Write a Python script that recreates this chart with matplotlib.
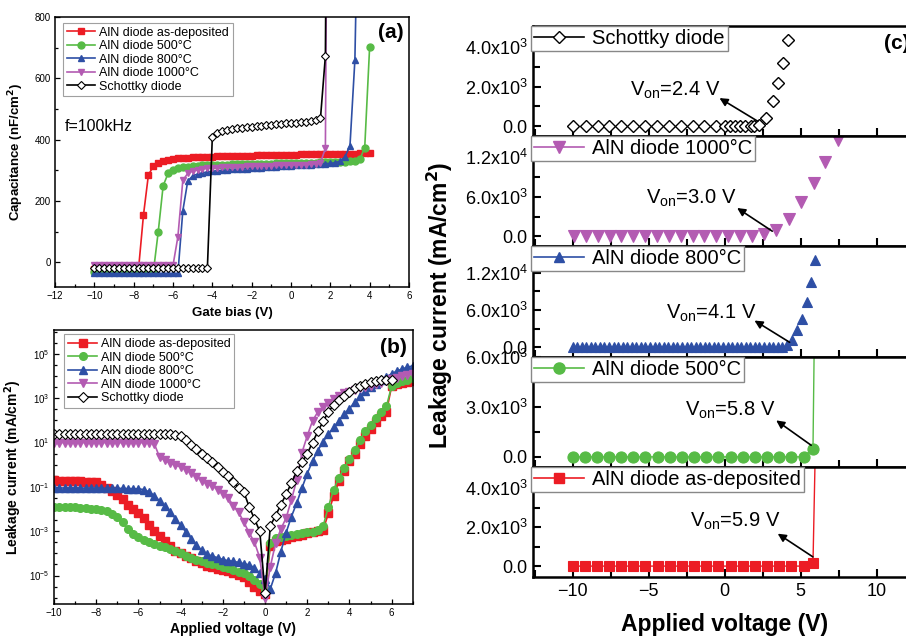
import numpy as np
import matplotlib
matplotlib.use('Agg')
import matplotlib.pyplot as plt
from matplotlib.ticker import MultipleLocator, FixedLocator, FuncFormatter, NullFormatter
from matplotlib.lines import Line2D

plt.rcParams['font.family'] = ['Liberation Sans', 'DejaVu Sans']
plt.rcParams['mathtext.default'] = 'regular'

RED = '#ec1c24'
GREEN = '#57bb46'
BLUE = '#2e4fa5'
PURPLE = '#b35bb2'

labels = ['AlN diode as-deposited', 'AlN diode 500°C', 'AlN diode 800°C',
          'AlN diode 1000°C', 'Schottky diode']

# ---- (a) C-V, gate bias sweep in 0.25 V steps from -10 V
bias_a = np.arange(-10, 4.01, 0.25)
cap_asdep = [-20, -20, -20, -20, -20, -20, -20, -20, -20, -20,
             155, 285, 314, 325, 331, 335, 338, 340, 341, 342, 343, 344, 344, 345, 345,
             346, 346, 347, 347, 347, 348, 348, 348, 349, 349, 349, 350, 350, 350, 351, 351,
             351, 352, 352, 352, 353, 353, 353, 354, 354, 354, 355, 355, 355, 356, 356, 357]
cap_500 = [-32, -32, -32, -32, -32, -32, -32, -32, -32, -32, -32, -32, -32,
           100, 250, 290, 302, 307, 310, 312, 314, 315, 316, 317, 318,
           318, 319, 319, 320, 320, 320, 321, 321, 321, 322, 322, 322, 323, 323, 323,
           324, 324, 324, 325, 325, 325, 326, 326, 327, 327, 328, 328, 329, 330,
           336, 374, 703]
cap_800 = [-36, -36, -36, -36, -36, -36, -36, -36, -36, -36, -36, -36, -36, -36, -36, -36, -36, -36,
           168, 265, 282, 288, 292, 295, 297, 299, 300, 302, 303, 304, 305, 306, 307, 308,
           309, 310, 311, 312, 313, 314, 315, 316, 317, 318, 319, 320, 321, 322, 323, 325,
           330, 345, 380, 660, 1500]
cap_1000 = [-10, -10, -10, -10, -10, -10, -10, -10, -10, -10, -10, -10, -10, -10, -10, -10, -10,
            84, 268, 290, 298, 302, 305, 307, 308, 309, 310, 311, 311, 312, 312, 313, 313,
            314, 314, 315, 315, 316, 316, 317, 317, 318, 318, 319, 320, 322, 325, 372, 3000]
cap_schottky = [-17, -17, -17, -17, -17, -17, -17, -17, -17, -17, -17, -17,
                -17, -17, -17, -17, -17, -17, -17, -17, -17, -17, -17, -17,
                408, 422, 428, 432, 435, 437, 439, 441, 443, 444, 446, 447, 449,
                450, 452, 453, 455, 456, 457, 459, 461, 463, 470, 673, 3000]

# ---- (b) I-V on log scale, log10(mA/cm2), 0.25 V steps from -10 V
volt_b = np.arange(-10, 7.01, 0.25)
log_asdep = [-0.71, -0.72, -0.72, -0.73, -0.74, -0.75, -0.76, -0.77, -0.80, -0.90,
             -1.05, -1.20, -1.35, -1.55, -1.80, -2.00, -2.18, -2.42, -2.72, -2.98,
             -3.22, -3.45, -3.66, -3.88, -4.00, -4.10, -4.22, -4.33, -4.44, -4.55,
             -4.63, -4.69, -4.74, -4.80, -4.88, -4.98, -5.08, -5.30, -5.52, -5.68,
             -5.85, -3.65, -3.46, -3.40, -3.34, -3.28, -3.22, -3.16, -3.10, -3.04,
             -3.00, -2.95, -2.20, -1.40, -0.75, -0.30, 0.15, 0.50, 0.92, 1.30,
             1.62, 1.92, 2.18, 2.38, 3.55, 3.62, 3.68, 3.72, 3.78]
log_500 = [-1.90, -1.90, -1.91, -1.92, -1.93, -1.95, -1.96, -1.98, -2.00, -2.05,
           -2.11, -2.22, -2.38, -2.60, -2.92, -3.13, -3.28, -3.38, -3.47, -3.57,
           -3.65, -3.73, -3.82, -3.90, -4.00, -4.12, -4.20, -4.29, -4.36, -4.42,
           -4.48, -4.54, -4.60, -4.66, -4.75, -4.82, -4.89, -5.00, -5.20, -5.40,
           -5.65, -3.55, -3.31, -3.27, -3.22, -3.17, -3.12, -3.08, -3.05, -3.02,
           -2.95, -2.78, -1.90, -1.13, -0.58, -0.15, 0.25, 0.66, 1.12, 1.50,
           1.80, 2.10, 2.38, 2.63, 3.55, 3.67, 3.76, 3.84, 3.90]
log_800 = [-1.05, -1.05, -1.05, -1.05, -1.05, -1.05, -1.06, -1.06, -1.06, -1.06,
           -1.07, -1.07, -1.07, -1.07, -1.08, -1.08, -1.09, -1.12, -1.22, -1.40,
           -1.63, -1.88, -2.12, -2.43, -2.74, -3.03, -3.33, -3.62, -3.86, -4.03,
           -4.13, -4.19, -4.28, -4.33, -4.36, -4.41, -4.47, -4.52, -4.65, -4.90,
           -5.15, -5.60, -4.89, -3.92, -3.06, -2.34, -1.73, -1.05, -0.40, 0.17,
           0.64, 1.04, 1.38, 1.68, 1.98, 2.28, 2.53, 2.82, 3.08, 3.32,
           3.50, 3.65, 3.82, 3.97, 4.10, 4.23, 4.32, 4.40, 4.46]
log_1000 = [1.00, 1.00, 1.00, 1.00, 1.00, 1.00, 1.00, 1.00, 1.00, 1.00,
            1.00, 1.00, 1.00, 1.00, 1.00, 1.00, 1.00, 1.00, 1.00, 0.95,
            0.35, 0.20, 0.08, -0.02, -0.10, -0.22, -0.38, -0.55, -0.72, -0.85,
            -0.95, -1.12, -1.30, -1.50, -1.85, -2.15, -2.60, -3.08, -3.50, -4.20,
            -6.00, -4.60, -3.54, -2.90, -2.40, -1.58, -0.70, 0.55, 1.30, 1.98,
            2.38, 2.60, 2.80, 2.95, 3.08, 3.22, 3.30, 3.38, 3.45, 3.51,
            3.56, 3.62, 3.68, 3.76, 3.86, 3.93, 4.00, 4.06, 4.10]
log_schottky = [1.38, 1.38, 1.38, 1.38, 1.38, 1.38, 1.38, 1.38, 1.38, 1.38,
                1.38, 1.38, 1.38, 1.38, 1.38, 1.38, 1.38, 1.38, 1.38, 1.38,
                1.38, 1.38, 1.37, 1.35, 1.28, 1.10, 0.88, 0.70, 0.50, 0.30,
                0.10, -0.09, -0.32, -0.52, -0.77, -1.04, -1.25, -1.90, -2.45, -3.00,
                -5.80, -2.75, -2.30, -1.80, -1.33, -0.82, -0.30, 0.10, 0.50, 1.00,
                1.50, 1.95, 2.38, 2.70, 2.94, 3.12, 3.30, 3.45, 3.57, 3.66,
                3.75, 3.79, 3.82, 3.83, 3.81]

# ---- (c) linear I-V, one panel per device (mA/cm2)
volt_sch_c = [-9.98, -9.1, -8.33, -7.57, -6.8, -6.03, -5.2, -4.45, -3.66, -2.85, -2.08,
              -1.32, -0.55, 0.0, 0.37, 0.72, 1.05, 1.38, 1.71, 1.97, 2.3, 2.74, 3.18, 3.51,
              3.84, 4.17]
cur_sch_c = [0.0] * 20 + [80, 420, 1250, 2170, 3170, 4330]
volt_1000_c = [-9.9, -9.12, -8.34, -7.56, -6.78, -6.0, -5.22, -4.44, -3.66, -2.88, -2.1,
               -1.32, -0.54, 0.24, 1.02, 1.8, 2.63, 3.4, 4.23, 5.04, 5.88, 6.64, 7.46]
cur_1000_c = [0.0] * 16 + [300, 1000, 2700, 5200, 8100, 11200, 14600]
volt_800_c = list(np.round(np.arange(-10, 4.15, 0.3), 2)) + [4.45, 4.8, 5.1, 5.4, 5.7, 5.95]
cur_800_c = [0.0] * 47 + [300, 1200, 2700, 4550, 7250, 10450, 14000]
volt_500_c = list(np.round(np.arange(-10, 5.25, 0.8), 2)) + [5.82, 5.93]
cur_500_c = [0.0] * 20 + [500, 9000]
volt_asdep_c = list(np.round(np.arange(-10, 5.25, 0.8), 2)) + [5.82, 6.05]
cur_asdep_c = [0.0] * 20 + [150, 9000]
von_text = ['2.4', '3.0', '4.1', '5.8', '5.9']

fig = plt.figure(figsize=(9.06, 6.39), dpi=100)


def style_small(ax):
    for s in ax.spines.values():
        s.set_linewidth(1.1)
    ax.tick_params(which='both', direction='in', labelsize=7, width=0.9, pad=3)
    ax.tick_params(which='major', length=3.5)
    ax.tick_params(which='minor', length=2)


# ---------------- panel (a)
axa = fig.add_axes([0.0607, 0.5509, 0.3907, 0.4225])
for vals, c, m, lab in zip([cap_asdep, cap_500, cap_800, cap_1000],
                           [RED, GREEN, BLUE, PURPLE], ['s', 'o', '^', 'v'], labels[:4]):
    axa.plot(bias_a[:len(vals)], vals, color=c, marker=m, ms=5, mec=c, lw=1.2, label=lab)
axa.plot(bias_a[:len(cap_schottky)], cap_schottky, color='black', marker='D', ms=4.5,
         mfc='white', mec='black', mew=0.8, lw=1.2, label=labels[4])
axa.set_xlim(-12, 6)
axa.set_ylim(-80, 800)
axa.xaxis.set_major_locator(MultipleLocator(2))
axa.xaxis.set_minor_locator(MultipleLocator(1))
axa.yaxis.set_major_locator(MultipleLocator(200))
axa.yaxis.set_minor_locator(MultipleLocator(100))
style_small(axa)
axa.set_xlabel('Gate bias (V)', fontsize=9.5, fontweight='bold', labelpad=4)
axa.set_ylabel(r'Capacitance (nF/cm$^\mathbf{2}$)', fontsize=9.5, fontweight='bold', labelpad=6)
axa.text(-11.5, 442, 'f=100kHz', fontsize=11.5, va='center')
axa.text(4.4, 748, '(a)', fontsize=15, fontweight='bold', va='center')
leg = axa.legend(loc='upper left', bbox_to_anchor=(0.022, 0.978), fontsize=9, fancybox=False,
                 edgecolor='#888888', handlelength=2.3, borderpad=0.3, labelspacing=0.12,
                 handletextpad=0.3, borderaxespad=0)
leg.get_frame().set_linewidth(0.8)

# ---------------- panel (b)
axb = fig.add_axes([0.0596, 0.0548, 0.396, 0.4288])
for vals, c, m, lab in zip([log_asdep, log_500, log_800, log_1000],
                           [RED, GREEN, BLUE, PURPLE], ['s', 'o', '^', 'v'], labels[:4]):
    axb.plot(volt_b[:len(vals)], 10 ** np.array(vals), color=c, marker=m, ms=5.5, mec=c,
             lw=1.2, label=lab)
axb.plot(volt_b[:len(log_schottky)], 10 ** np.array(log_schottky), color='black', marker='D',
         ms=5, mfc='white', mec='black', mew=0.8, lw=1.2, label=labels[4])
axb.set_yscale('log')
axb.set_xlim(-10, 7)
axb.set_ylim(5.2e-7, 1.2e6)
axb.xaxis.set_major_locator(MultipleLocator(2))
axb.xaxis.set_minor_locator(MultipleLocator(1))
axb.yaxis.set_major_locator(FixedLocator([10.0 ** k for k in range(-5, 6, 2)]))
axb.yaxis.set_minor_locator(FixedLocator([10.0 ** (k / 2) for k in range(-12, 13)
                                          if k % 4 != 2]))
axb.yaxis.set_major_formatter(FuncFormatter(lambda v, p: '$10^{%d}$' % round(np.log10(v))))
axb.yaxis.set_minor_formatter(NullFormatter())
style_small(axb)
axb.set_xlabel('Applied voltage (V)', fontsize=10, fontweight='bold', labelpad=3)
axb.set_ylabel(r'Leakage current (mA/cm$^\mathbf{2}$)', fontsize=10, fontweight='bold', labelpad=4)
axb.text(5.45, 10 ** 5.28, '(b)', fontsize=15, fontweight='bold', va='center')
leg = axb.legend(loc='upper left', bbox_to_anchor=(0.029, 0.984), fontsize=9, fancybox=False,
                 edgecolor='#888888', handlelength=2.3, borderpad=0.3, labelspacing=0.12,
                 handletextpad=0.3, borderaxespad=0)
leg.get_frame().set_linewidth(0.8)

# ---------------- panel (c): five stacked linear panels
c_top = 1 - 26 / 639
c_bot = 1 - 577 / 639
h = (c_top - c_bot) / 5
c_left = 533 / 906
c_width = 25.2 * 15.2 / 906

series_c = [
    (volt_sch_c, cur_sch_c, 'black', 'D', 6.5, 'white', 'none', labels[4]),
    (volt_1000_c, cur_1000_c, PURPLE, 'v', 8.5, PURPLE, 'none', labels[3]),
    (volt_800_c, cur_800_c, BLUE, '^', 7.5, BLUE, 'none', labels[2]),
    (volt_500_c, cur_500_c, GREEN, 'o', 8, GREEN, '-', labels[1]),
    (volt_asdep_c, cur_asdep_c, RED, 's', 7, RED, '-', labels[0]),
]
ylims = [(-500, 5050), (-1500, 15150), (-1500, 16200), (-600, 6050), (-560, 5100)]
majors = [2000, 6000, 6000, 3000, 2000]
text_pos = [(-6.25, 1535), (-5.15, 5000), (-3.84, 4560), (-2.63, 2500), (-2.3, 2000)]
arrows = [((-0.33, 1420), (2.19, 250)), ((0.83, 4300), (3.14, 800)),
          ((1.97, 4290), (4.28, 800)), ((3.4, 2200), (5.7, 700)),
          ((3.5, 1665), (5.81, 475))]


def sci_fmt(v, pos):
    if abs(v) < 1e-9:
        return '0.0'
    e = int(np.floor(np.log10(abs(v))))
    return '%.1fx10$^{%d}$' % (v / 10 ** e, e)


axes_c = []
for i, (vx, vy, c, m, ms, mfc, ls, lab) in enumerate(series_c):
    ax = fig.add_axes([c_left, c_top - (i + 1) * h, c_width, h])
    axes_c.append(ax)
    ax.plot(vx, vy, color=c, marker=m, ms=ms, mfc=mfc, mec=c, mew=1.0 if c == 'black' else 0.8,
            ls=ls, lw=1.0)
    ax.set_xlim(-12.6, 12.6)
    ax.set_ylim(*ylims[i])
    ax.xaxis.set_major_locator(MultipleLocator(5))
    ax.xaxis.set_minor_locator(MultipleLocator(2.5))
    ax.yaxis.set_major_locator(MultipleLocator(majors[i]))
    ax.yaxis.set_minor_locator(MultipleLocator(majors[i] / 2))
    ax.yaxis.set_major_formatter(FuncFormatter(sci_fmt))
    for s in ax.spines.values():
        s.set_linewidth(1.8)
    ax.tick_params(which='both', direction='in', width=1.5, labelsize=13, pad=4)
    ax.tick_params(which='major', length=6)
    ax.tick_params(which='minor', length=5)
    if i < 4:
        ax.tick_params(labelbottom=False)
    handle = Line2D([], [], color=c, marker=m, ms=ms, mfc=mfc, mec=c, lw=1.2)
    lg = ax.legend([handle], [lab], loc='upper left', bbox_to_anchor=(-0.006, 1.0),
                   borderaxespad=0, fontsize=14.5, fancybox=False, edgecolor='#888888',
                   handlelength=2.5, borderpad=0.15, handletextpad=0.4, framealpha=1)
    lg.get_frame().set_linewidth(1.0)
    tx, ty = text_pos[i]
    ax.text(tx, ty, 'V$_{on}$=%s V' % von_text[i], fontsize=14.5, ha='left', va='baseline')
    (hx, hy), (sx, sy) = arrows[i]
    ax.annotate('', xy=(hx, hy), xytext=(sx, sy),
                arrowprops=dict(arrowstyle='-|>', color='black', lw=1.2, mutation_scale=12,
                                shrinkA=0, shrinkB=0))

axes_c[0].text(10.5, 4185, '(c)', fontsize=15, fontweight='bold', va='center')
axes_c[-1].set_xlabel('Applied voltage (V)', fontsize=16.5, fontweight='bold', labelpad=10)
fig.text(440 / 906, 1 - 305 / 639, r'Leakage current (mA/cm$^\mathbf{2}$)', rotation=90,
         fontsize=16.5, fontweight='bold', ha='center', va='center')

fig.savefig('out.png', dpi=100)
